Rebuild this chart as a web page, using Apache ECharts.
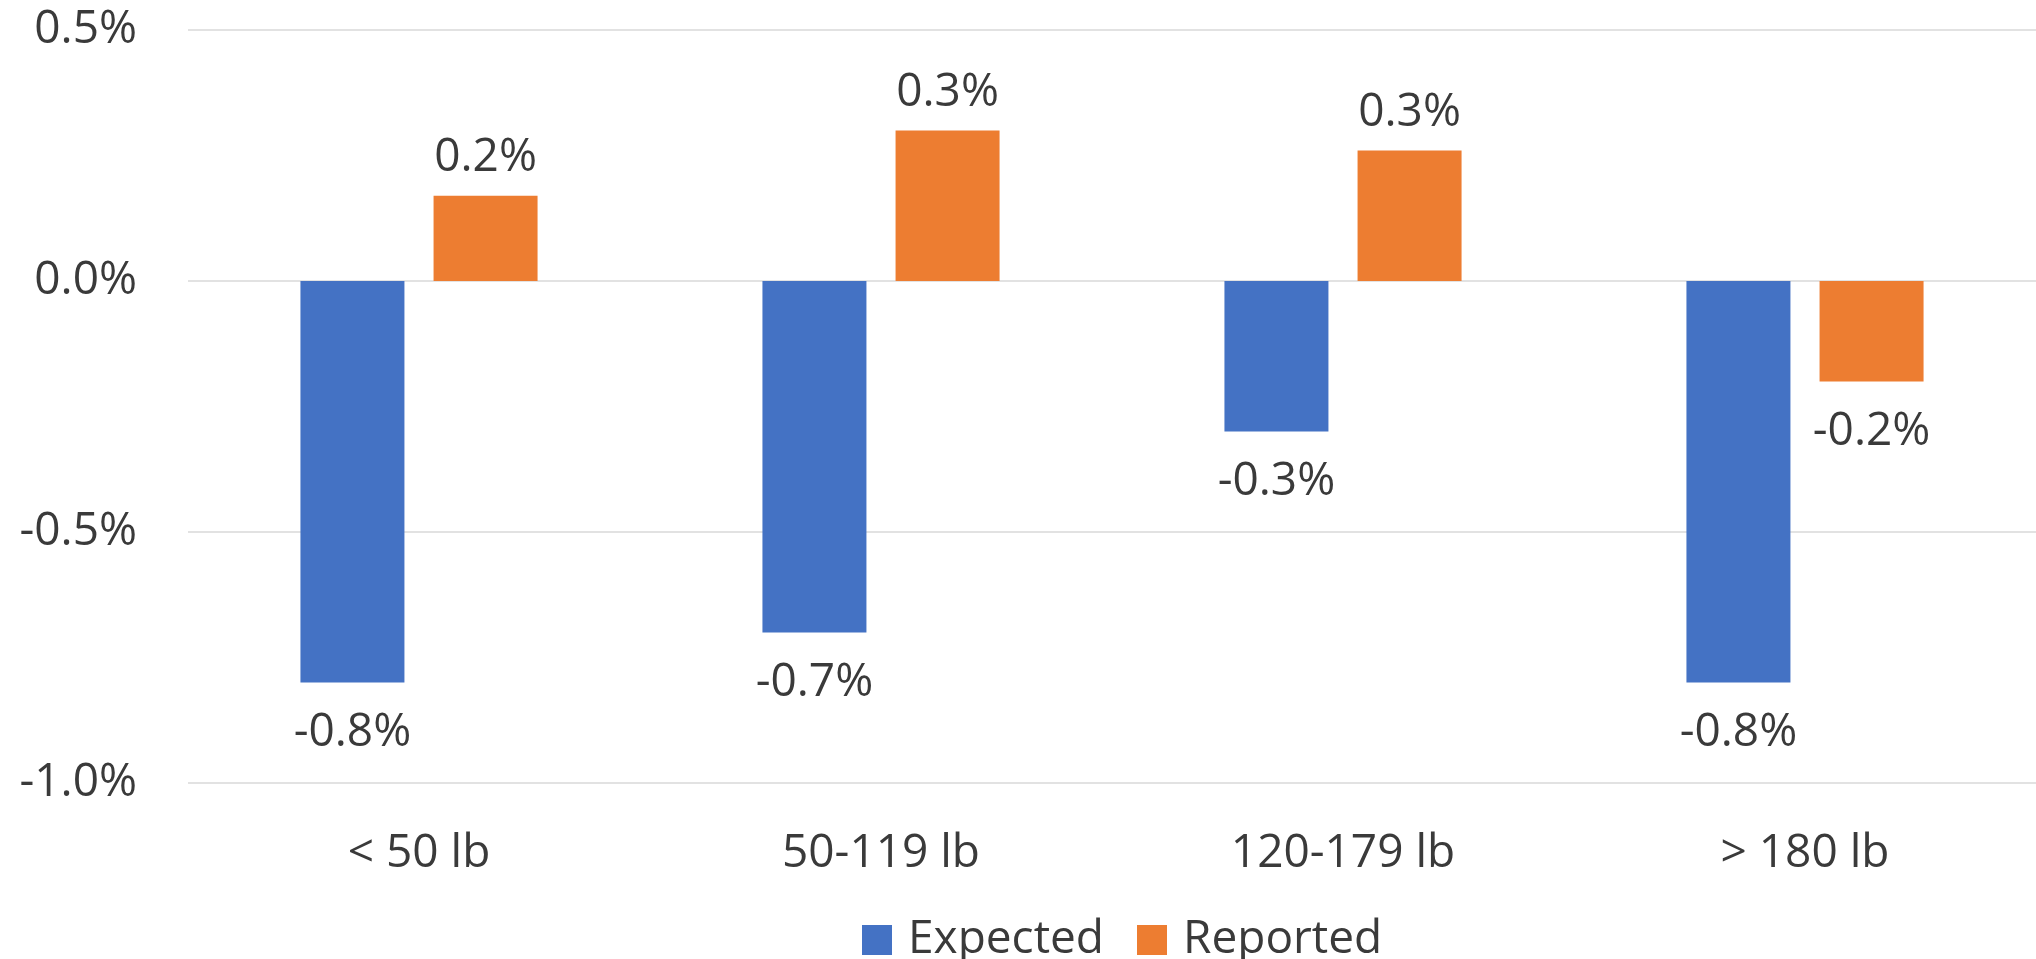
<!DOCTYPE html>
<html>
<head>
<meta charset="utf-8">
<script src="https://cdn.jsdelivr.net/npm/echarts@6/dist/echarts.min.js"></script>
<style>
  html, body { margin: 0; padding: 0; background: #fff; }
  #chart { width: 2036px; height: 959px; }
</style>
</head>
<body>
<div id="chart"></div>
<script>
const categories = ['< 50 lb', '50-119 lb', '120-179 lb', '> 180 lb'];
const expected = [-0.80, -0.70, -0.30, -0.80];
const reported = [0.17, 0.30, 0.26, -0.20];
const yTicks = { min: -1.0, max: 0.5, interval: 0.5 };

const FONT = 'Open Sans';
const TEXT = '#3a3a3a';

function toItems(arr) {
  return arr.map(v => ({
    value: v,
    label: { position: v >= 0 ? 'top' : 'bottom', distance: v >= 0 ? 15 : 27 }
  }));
}

const chart = echarts.init(document.getElementById('chart'));
chart.setOption({
  animation: false,
  textStyle: { fontFamily: FONT },
  grid: { left: 188, top: 30, width: 1856, height: 753, containLabel: false },
  legend: {
    left: 857, top: 912,
    itemWidth: 30, itemHeight: 30, itemGap: 33,
    icon: 'rect',
    textStyle: { fontFamily: FONT, fontSize: 46, color: TEXT, padding: [0, 0, 0, 11] },
    data: ['Expected', 'Reported']
  },
  xAxis: {
    type: 'category',
    data: categories,
    axisLine: { show: false },
    axisTick: { show: false },
    axisLabel: { fontFamily: FONT, fontSize: 46, color: TEXT, margin: 48 }
  },
  yAxis: {
    type: 'value',
    min: yTicks.min, max: yTicks.max, interval: yTicks.interval,
    axisLine: { show: false },
    axisTick: { show: false },
    splitLine: { lineStyle: { color: '#d9d9d9', width: 1.5 } },
    axisLabel: {
      fontFamily: FONT, fontSize: 46, color: TEXT, margin: 51,
      formatter: v => v.toFixed(1) + '%'
    }
  },
  series: [
    {
      name: 'Expected', type: 'bar', data: toItems(expected),
      barWidth: 104, barGap: '28%',
      itemStyle: { color: '#4472C4' },
      label: { show: true, fontFamily: FONT, fontSize: 46, color: TEXT,
        formatter: p => p.value.toFixed(1) + '%' }
    },
    {
      name: 'Reported', type: 'bar', data: toItems(reported),
      barWidth: 104, barGap: '28%',
      itemStyle: { color: '#ED7D31' },
      label: { show: true, fontFamily: FONT, fontSize: 46, color: TEXT,
        formatter: p => p.value.toFixed(1) + '%' }
    }
  ]
});
</script>
</body>
</html>
